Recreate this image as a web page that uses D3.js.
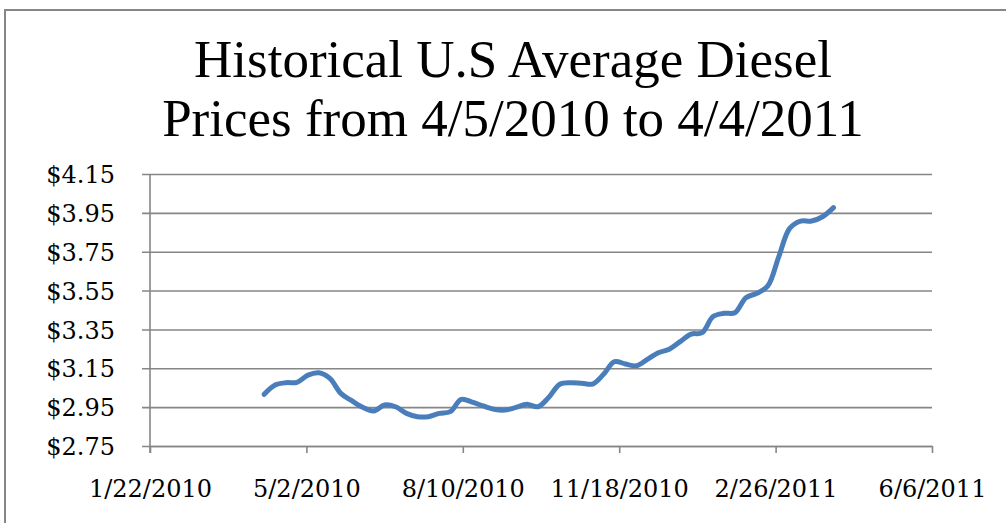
<!DOCTYPE html>
<html>
<head>
<meta charset="utf-8">
<script src="https://cdn.jsdelivr.net/npm/d3@7"></script>
<style>
  html, body { margin: 0; padding: 0; background: #fff; overflow: hidden; }
</style>
</head>
<body>
<div id="chart"></div>
<script>
// weekly retail diesel price
const weekDates = [
  '4/5/2010', '4/12/2010', '4/19/2010', '4/26/2010', '5/3/2010', '5/10/2010', '5/17/2010',
  '5/24/2010', '5/31/2010', '6/7/2010', '6/14/2010', '6/21/2010', '6/28/2010', '7/5/2010',
  '7/12/2010', '7/19/2010', '7/26/2010', '8/2/2010', '8/9/2010', '8/16/2010', '8/23/2010',
  '8/30/2010', '9/6/2010', '9/13/2010', '9/20/2010', '9/27/2010', '10/4/2010', '10/11/2010',
  '10/18/2010', '10/25/2010', '11/1/2010', '11/8/2010', '11/15/2010', '11/22/2010', '11/29/2010',
  '12/6/2010', '12/13/2010', '12/20/2010', '12/27/2010', '1/3/2011', '1/10/2011', '1/17/2011',
  '1/24/2011', '1/31/2011', '2/7/2011', '2/14/2011', '2/21/2011', '2/28/2011', '3/7/2011',
  '3/14/2011', '3/21/2011', '3/28/2011', '4/4/2011'
];
const prices = [
  3.016, 3.064, 3.076, 3.078, 3.115, 3.127, 3.098,
  3.021, 2.983, 2.949, 2.930, 2.961, 2.952, 2.918,
  2.901, 2.901, 2.918, 2.927, 2.990, 2.976, 2.956,
  2.939, 2.935, 2.949, 2.965, 2.952, 3.001, 3.068,
  3.076, 3.073, 3.069, 3.119, 3.184, 3.172, 3.163,
  3.196, 3.230, 3.248, 3.287, 3.326, 3.333, 3.416,
  3.433, 3.436, 3.513, 3.536, 3.574, 3.724, 3.870,
  3.908, 3.908, 3.930, 3.977
];
const xTickLabels = ['1/22/2010', '5/2/2010', '8/10/2010', '11/18/2010', '2/26/2011', '6/6/2011'];
const yTicks = [2.75, 2.95, 3.15, 3.35, 3.55, 3.75, 3.95, 4.15];
const titleLines = ['Historical U.S Average Diesel', 'Prices from 4/5/2010 to 4/4/2011'];

const width = 1006;
const height = 523;
const parse = d3.timeParse('%m/%d/%Y');
const fmt = d3.timeFormat('%-m/%-d/%Y');
const gridColor = '#868686';

const data = weekDates.map((d, i) => ({date: parse(d), value: prices[i]}));
const xTicks = xTickLabels.map(parse);

const svg = d3.select('#chart').append('svg')
  .attr('width', width)
  .attr('height', height);

// outer chart frame (runs off the right and bottom edge)
svg.append('rect')
  .attr('x', 5).attr('y', 10)
  .attr('width', 1020).attr('height', 530)
  .attr('fill', '#fff')
  .attr('stroke', gridColor)
  .attr('stroke-width', 2);

const x = d3.scaleTime()
  .domain([xTicks[0], xTicks[xTicks.length - 1]])
  .range([150, 932]);
const y = d3.scaleLinear()
  .domain([yTicks[0], yTicks[yTicks.length - 1]])
  .range([446, 174]);

// title, two lines
svg.append('g')
  .selectAll('text')
  .data(titleLines)
  .join('text')
  .attr('text-anchor', 'middle')
  .attr('x', 513)
  .attr('y', (d, i) => 77 + i * 59)
  .attr('fill', '#000')
  .style('font-family', '"Liberation Serif", serif')
  .style('font-size', '53px')
  .text(d => d);

// horizontal gridlines + y axis
const yAxis = d3.axisLeft(y)
  .tickValues(yTicks)
  .tickSize(-(932 - 150))
  .tickPadding(0)
  .tickFormat(d => '$' + d3.format('.2f')(d));
const gy = svg.append('g')
  .attr('transform', 'translate(150,0)')
  .call(yAxis);
gy.select('.domain').remove();
gy.selectAll('.tick line')
  .attr('x1', -8)
  .attr('stroke', gridColor)
  .attr('stroke-width', 1.6);
gy.selectAll('.tick text')
  .attr('x', -35)
  .attr('dy', '0.36em')
  .attr('fill', '#000')
  .style('font-family', '"DejaVu Serif", serif')
  .style('font-size', '24px');

// x axis
const xAxis = d3.axisBottom(x)
  .tickValues(xTicks)
  .tickSize(7)
  .tickSizeOuter(0)
  .tickPadding(0)
  .tickFormat(fmt);
const gx = svg.append('g')
  .attr('transform', 'translate(0,446)')
  .call(xAxis);
gx.select('.domain').attr('stroke', gridColor).attr('stroke-width', 1.6);
gx.selectAll('.tick line').attr('stroke', gridColor).attr('stroke-width', 1.6);
gx.selectAll('.tick text')
  .attr('y', 51)
  .attr('dy', 0)
  .attr('fill', '#000')
  .style('font-family', '"DejaVu Serif", serif')
  .style('font-size', '24px');

// vertical axis line
svg.append('line')
  .attr('x1', 150).attr('x2', 150)
  .attr('y1', y(yTicks[yTicks.length - 1])).attr('y2', 453)
  .attr('stroke', gridColor)
  .attr('stroke-width', 1.6);

// smoothed price line
const line = d3.line()
  .x(d => x(d.date))
  .y(d => y(d.value))
  .curve(d3.curveCatmullRom.alpha(0.5));

svg.append('path')
  .datum(data)
  .attr('d', line)
  .attr('fill', 'none')
  .attr('stroke', '#4a7ebb')
  .attr('stroke-width', 5)
  .attr('stroke-linecap', 'round')
  .attr('stroke-linejoin', 'round');
</script>
</body>
</html>
